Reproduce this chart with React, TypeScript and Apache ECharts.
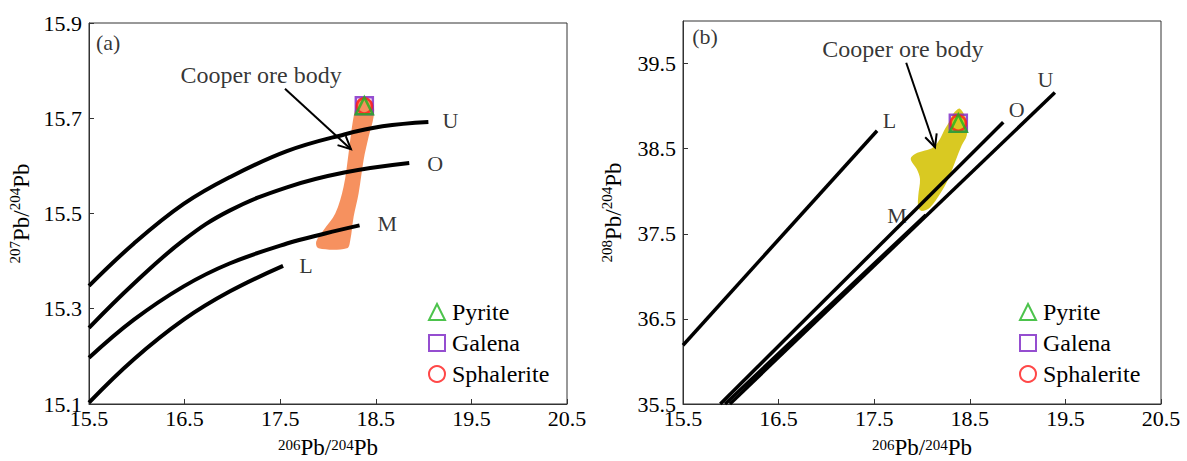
import React, { useEffect, useRef } from "react";
import * as echarts from "echarts";

const FONT = "'Liberation Serif', 'Times New Roman', serif";

// ---- Panel (a): 207Pb/204Pb vs 206Pb/204Pb ----
const curveUA = [[15.5, 15.348], [15.97, 15.437], [16.49, 15.52], [16.97, 15.576], [17.57, 15.631], [18.17, 15.666], [18.57, 15.683], [19.05, 15.692]];
const curveOA = [[15.5, 15.26], [15.97, 15.353], [16.49, 15.444], [16.97, 15.506], [17.57, 15.555], [18.17, 15.586], [18.85, 15.606]];
const curveMA = [[15.5, 15.197], [15.97, 15.277], [16.49, 15.347], [16.97, 15.395], [17.57, 15.437], [17.97, 15.458], [18.33, 15.475]];
const curveLA = [[15.5, 15.103], [15.97, 15.194], [16.49, 15.277], [16.97, 15.336], [17.53, 15.39]];
const fieldA = [
  [18.317, 15.74], [18.39, 15.743], [18.471, 15.731], [18.477, 15.703], [18.425, 15.661], [18.372, 15.612],
  [18.32, 15.542], [18.268, 15.493], [18.233, 15.444], [18.198, 15.427], [17.901, 15.427], [17.877, 15.441],
  [17.953, 15.465], [18.076, 15.5], [18.163, 15.556], [18.215, 15.626], [18.251, 15.682], [18.296, 15.731],
];
const oreA = [18.38, 15.726];
const arrowA = [17.55, 15.762, 18.24, 15.635];
const textA = [
  { name: "U", value: [19.28, 15.695] },
  { name: "O", value: [19.12, 15.605] },
  { name: "M", value: [18.62, 15.48] },
  { name: "L", value: [17.77, 15.39] },
  { name: "Cooper ore body", value: [17.3, 15.79] },
  { name: "(a)", value: [15.7, 15.86] },
];

// ---- Panel (b): 208Pb/204Pb vs 206Pb/204Pb ----
const lineLB = [[15.5, 36.19], [17.53, 38.71]];
const lineOB = [[15.89, 35.5], [18.85, 38.81]];
const lineMB = [[15.94, 35.5], [18.04, 37.72]];
const lineUB = [[15.99, 35.5], [19.39, 39.16]];
const fieldB = [
  [18.397, 38.969], [18.468, 38.812], [18.468, 38.654], [18.415, 38.536], [18.345, 38.34], [18.275, 38.143],
  [18.188, 37.966], [18.084, 37.809], [17.997, 37.769], [17.961, 37.809], [17.961, 37.946], [17.979, 38.143],
  [17.945, 38.261], [17.882, 38.379], [17.927, 38.438], [18.031, 38.477], [18.118, 38.517], [18.188, 38.615],
  [18.241, 38.733], [18.293, 38.831], [18.327, 38.91],
];
const oreB = [18.38, 38.8];
const arrowB = [17.835, 39.51, 18.136, 38.517];
const textB = [
  { name: "L", value: [17.66, 38.83] },
  { name: "O", value: [18.99, 38.96] },
  { name: "U", value: [19.29, 39.31] },
  { name: "M", value: [17.74, 37.71] },
  { name: "Cooper ore body", value: [17.8, 39.67] },
  { name: "(b)", value: [15.73, 39.82] },
];

const minerals = ["Pyrite", "Galena", "Sphalerite"];
const mineralColors = ["#1fb41f", "#7a22c4", "#ff1a1a"];
const mineralSymbols = ["triangle", "rect", "circle"];

function polygonSeries(points: number[][], fill: string, idx: number) {
  return {
    type: "custom",
    xAxisIndex: idx,
    yAxisIndex: idx,
    silent: true,
    z: 1,
    data: [points[0]],
    renderItem: (_params: any, api: any) => {
      const pts = points.map((p) => api.coord(p));
      return { type: "polygon", shape: { points: pts, smooth: 0.35 }, style: { fill } };
    },
  };
}

function arrowSeries(arrow: number[], idx: number) {
  return {
    type: "custom",
    xAxisIndex: idx,
    yAxisIndex: idx,
    silent: true,
    z: 4,
    data: [arrow],
    encode: { x: [0, 2], y: [1, 3] },
    renderItem: (_params: any, api: any) => {
      const p1 = api.coord([api.value(0), api.value(1)]);
      const p2 = api.coord([api.value(2), api.value(3)]);
      const ang = Math.atan2(p2[1] - p1[1], p2[0] - p1[0]);
      const L = 14;
      const a = Math.PI / 7;
      const h1 = [p2[0] - L * Math.cos(ang - a), p2[1] - L * Math.sin(ang - a)];
      const h2 = [p2[0] - L * Math.cos(ang + a), p2[1] - L * Math.sin(ang + a)];
      return {
        type: "group",
        children: [
          { type: "line", shape: { x1: p1[0], y1: p1[1], x2: p2[0], y2: p2[1] }, style: { stroke: "#000", lineWidth: 2 } },
          { type: "polyline", shape: { points: [h1, p2, h2] }, style: { stroke: "#000", fill: "none", lineWidth: 2 } },
        ],
      };
    },
  };
}

function lineSeries(data: number[][], idx: number, smooth: number | boolean, width: number) {
  return {
    type: "line",
    xAxisIndex: idx,
    yAxisIndex: idx,
    data,
    smooth,
    symbol: "none",
    silent: true,
    z: 3,
    lineStyle: { color: "#000", width, cap: "butt" },
  };
}

function textSeries(data: any[], idx: number) {
  return {
    type: "scatter",
    xAxisIndex: idx,
    yAxisIndex: idx,
    data: data.map((d) => ({
      ...d,
      label: d.name.length > 3 ? { fontSize: 24 } : undefined,
    })),
    symbolSize: 1,
    silent: true,
    z: 6,
    itemStyle: { color: "rgba(0,0,0,0)" },
    label: { show: true, position: "inside", formatter: "{b}", fontFamily: FONT, fontSize: 22, color: "#000" },
  };
}

function oreSeries(pt: number[], idx: number) {
  const order = [1, 2, 0];
  return order.map((i) => ({
    type: "scatter",
    name: minerals[i],
    xAxisIndex: idx,
    yAxisIndex: idx,
    data: [pt],
    symbol: mineralSymbols[i],
    symbolSize: i === 2 ? 15 : 17,
    z: 5,
    itemStyle: { color: "rgba(0,0,0,0)", borderColor: mineralColors[i], borderWidth: 2.5 },
  }));
}

const legendData = minerals.map((m, i) => ({
  name: m,
  icon: mineralSymbols[i],
  itemStyle: { color: "rgba(0,0,0,0)", borderColor: mineralColors[i], borderWidth: 2 },
}));

function richName(a: string, b: string) {
  return `{s|${a}}{n|Pb/}{s|${b}}{n|Pb}`;
}
function nameRich(lh: number) {
  return {
    s: { fontFamily: FONT, fontSize: 15, color: "#000", verticalAlign: "top", lineHeight: lh },
    n: { fontFamily: FONT, fontSize: 23, color: "#000", verticalAlign: "bottom", lineHeight: lh },
  };
}

function xAxis(idx: number) {
  return {
    type: "value",
    gridIndex: idx,
    min: 15.5,
    max: 20.5,
    interval: 1,
    axisLine: { show: true, lineStyle: { color: "#333", width: 1 } },
    axisTick: { show: true, inside: true, length: 5, lineStyle: { color: "#333" } },
    axisLabel: { fontFamily: FONT, fontSize: 22, color: "#000", margin: 5, lineHeight: 18, formatter: (v: number) => v.toFixed(1) },
    splitLine: { show: false },
    name: richName("206", "204"),
    nameLocation: "middle",
    nameGap: 33,
    nameTextStyle: { fontFamily: FONT, fontSize: 23, color: "#000", lineHeight: 22, rich: nameRich(22) },
  };
}

function yAxis(idx: number, min: number, max: number, interval: number, sup: string, gap: number) {
  return {
    type: "value",
    gridIndex: idx,
    min,
    max,
    interval,
    axisLine: { show: true, lineStyle: { color: "#333", width: 1 } },
    axisTick: { show: true, inside: true, length: 5, lineStyle: { color: "#333" } },
    axisLabel: {
      fontFamily: FONT,
      fontSize: 22,
      color: "#000",
      margin: 7,
      lineHeight: 10,
      showMaxLabel: idx === 0,
      formatter: (v: number) => v.toFixed(1),
    },
    splitLine: { show: false },
    name: richName(sup, "204"),
    nameLocation: "middle",
    nameRotate: 90,
    nameGap: gap,
    nameTextStyle: { fontFamily: FONT, fontSize: 23, color: "#000", rich: nameRich(26) },
  };
}

function legend(left: number) {
  return {
    orient: "vertical",
    left,
    top: 295,
    itemWidth: 16,
    itemHeight: 16,
    itemGap: 7,
    selectedMode: false,
    data: legendData,
    textStyle: { fontFamily: FONT, fontSize: 24, color: "#000", padding: [0, 0, 0, 2] },
  };
}

export default function App() {
  const ref = useRef<HTMLDivElement>(null);
  useEffect(() => {
    if (!ref.current) return;
    const chart = echarts.init(ref.current, null, { renderer: "svg" });
    chart.setOption({
      animation: false,
      backgroundColor: "#fff",
      textStyle: { fontFamily: FONT },
      grid: [
        { left: 89, top: 23, width: 478, height: 381, outerBoundsMode: "none", containLabel: false, show: true, borderColor: "#333", borderWidth: 1, backgroundColor: "transparent" },
        { left: 683, top: 21, width: 478, height: 383, outerBoundsMode: "none", containLabel: false, show: true, borderColor: "#333", borderWidth: 1, backgroundColor: "transparent" },
      ],
      xAxis: [xAxis(0), xAxis(1)],
      yAxis: [yAxis(0, 15.1, 15.9, 0.2, "207", 56), yAxis(1, 35.5, 40.0, 1, "208", 58)],
      legend: [legend(423), legend(1014)],
      series: [
        polygonSeries(fieldA, "#f6915f", 0),
        lineSeries(curveUA, 0, 0.4, 4),
        lineSeries(curveOA, 0, 0.4, 4),
        lineSeries(curveMA, 0, 0.4, 4),
        lineSeries(curveLA, 0, 0.4, 4),
        arrowSeries(arrowA, 0),
        ...oreSeries(oreA, 0),
        textSeries(textA, 0),
        polygonSeries(fieldB, "#d9c922", 1),
        lineSeries(lineLB, 1, false, 3.5),
        lineSeries(lineOB, 1, false, 3.5),
        lineSeries(lineMB, 1, false, 3.5),
        lineSeries(lineUB, 1, false, 3.5),
        arrowSeries(arrowB, 1),
        ...oreSeries(oreB, 1),
        textSeries(textB, 1),
      ],
    });
    return () => chart.dispose();
  }, []);
  return <div ref={ref} style={{ position: "absolute", left: 0, top: 0, width: 1187, height: 461 }} />;
}
